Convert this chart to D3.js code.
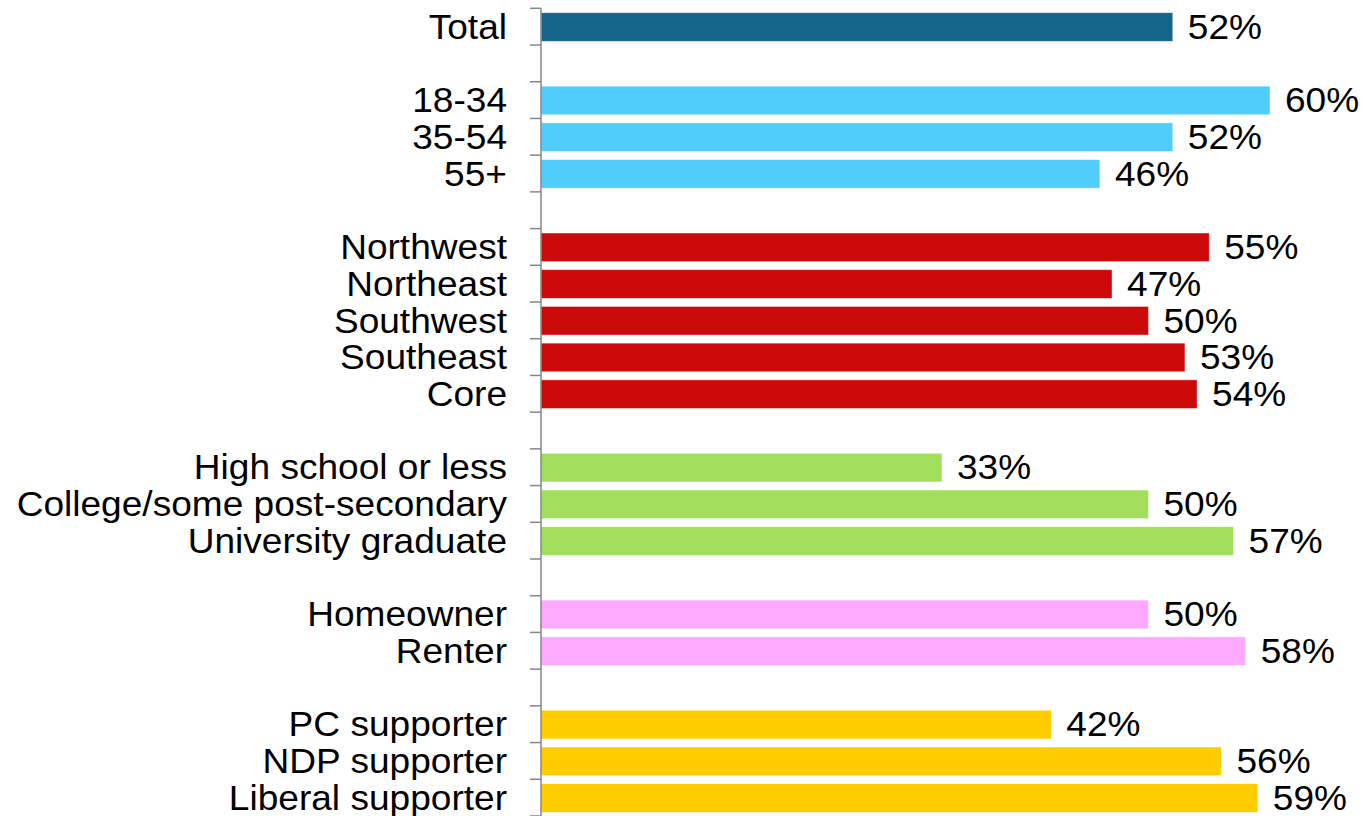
<!DOCTYPE html>
<html>
<head>
<meta charset="utf-8">
<script src="https://cdn.jsdelivr.net/npm/d3@7"></script>
<style>
  html, body { margin: 0; padding: 0; background: #fff; }
  svg { display: block; }
  text { font-family: "Liberation Sans", Arial, sans-serif; fill: #000; }
</style>
</head>
<body>
<div class="chart"></div>
<script>
// groups of rows, top to bottom
const totalLabels = ["Total"]
const totalValues = [52]
const ageLabels = ["18-34", "35-54", "55+"]
const ageValues = [60, 52, 46]
const regionLabels = ["Northwest", "Northeast", "Southwest", "Southeast", "Core"]
const regionValues = [55, 47, 50, 53, 54]
const eduLabels = ["High school or less", "College/some post-secondary", "University graduate"]
const eduValues = [33, 50, 57]
const homeLabels = ["Homeowner", "Renter"]
const homeValues = [50, 58]
const partyLabels = ["PC supporter", "NDP supporter", "Liberal supporter"]
const partyValues = [42, 56, 59]
const groupColors = ["#156589", "#50CDFB", "#CC0A0A", "#A0DE5C", "#FFA8FF", "#FFCC00"]

const groups = [
  [totalLabels, totalValues],
  [ageLabels, ageValues],
  [regionLabels, regionValues],
  [eduLabels, eduValues],
  [homeLabels, homeValues],
  [partyLabels, partyValues]
]

// flatten into rows, with an empty spacer row between groups
const rows = []
groups.forEach(([labels, values], g) => {
  if (g > 0) rows.push({key: "gap" + g, label: "", value: null, color: null})
  labels.forEach((l, i) => rows.push({key: l, label: l, value: values[i], color: groupColors[g]}))
})

const width = 1363
const height = 816
const axisX = 541
const fontSize = 34.5
const stretch = 1.075   // the reference text is a bit wider than tall

const svg = d3.select(".chart").append("svg")
  .attr("width", width)
  .attr("height", height)

const y = d3.scaleBand()
  .domain(rows.map(d => d.key))
  .range([8.3, 816])
  .padding(0)

const x = d3.scaleLinear()
  .domain([0, 60])
  .range([axisX, 1270])

const step = y.step()
const bars = rows.filter(d => d.value !== null)

svg.selectAll("rect.bar")
  .data(bars)
  .enter()
  .append("rect")
  .attr("class", "bar")
  .attr("x", x(0))
  .attr("y", d => y(d.key) + step * 0.12)
  .attr("width", d => x(d.value) - x(0))
  .attr("height", step * 0.78)
  .attr("fill", d => d.color)
  .attr("stroke", "#fff")
  .attr("stroke-opacity", 0.6)
  .attr("stroke-width", 0.75)

// value labels
svg.selectAll("text.val")
  .data(bars)
  .enter()
  .append("text")
  .attr("class", "val")
  .attr("transform", d => `translate(${x(d.value) + 15},${y(d.key) + step / 2 + fontSize * 0.355}) scale(${stretch},1)`)
  .style("font-size", fontSize + "px")
  .text(d => d.value + "%")

// category labels
svg.selectAll("text.cat")
  .data(bars)
  .enter()
  .append("text")
  .attr("class", "cat")
  .attr("text-anchor", "end")
  .attr("transform", d => `translate(507,${y(d.key) + step / 2 + fontSize * 0.355}) scale(${stretch},1)`)
  .style("font-size", fontSize + "px")
  .text(d => d.label)

// axis line and tick marks at band edges
const edges = rows.map(d => y(d.key)).concat([y.range()[1]])
svg.append("line")
  .attr("x1", axisX).attr("x2", axisX)
  .attr("y1", y.range()[0]).attr("y2", y.range()[1])
  .attr("stroke", "#868686")
  .attr("stroke-width", 1.5)

svg.selectAll("line.tick")
  .data(edges)
  .enter()
  .append("line")
  .attr("class", "tick")
  .attr("x1", axisX - 11).attr("x2", axisX)
  .attr("y1", d => d).attr("y2", d => d)
  .attr("stroke", "#868686")
  .attr("stroke-width", 1.5)
</script>
</body>
</html>
